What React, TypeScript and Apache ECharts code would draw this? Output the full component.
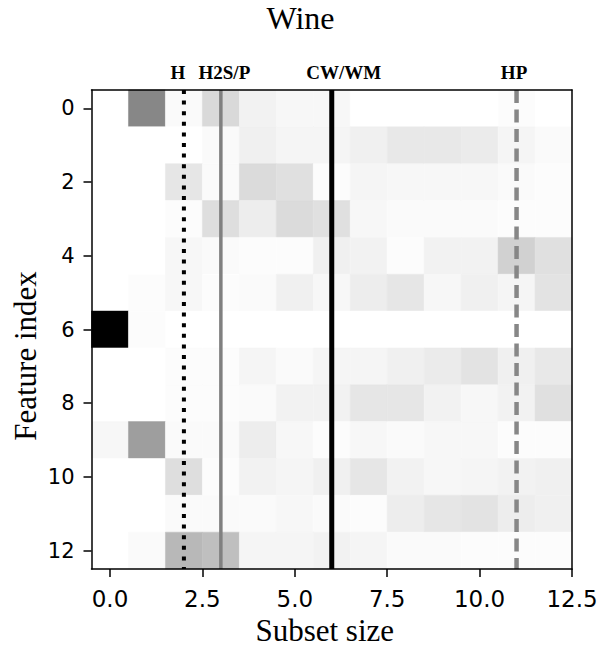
import React, { useEffect, useRef } from "react";
import * as echarts from "echarts";

// Subset sizes (columns) and feature indices (rows)
const subsetSizes = [0, 1, 2, 3, 4, 5, 6, 7, 8, 9, 10, 11, 12];
const featureIndices = [0, 1, 2, 3, 4, 5, 6, 7, 8, 9, 10, 11, 12];

// Relative importance per feature (0 = white, 1 = black), one value per subset size
const feature0 = [0, 0.47, 0.02, 0.15, 0.05, 0.03, 0.03, 0, 0, 0, 0, 0.01, 0];
const feature1 = [0, 0, 0, 0.02, 0.06, 0.04, 0.04, 0.06, 0.09, 0.09, 0.08, 0.04, 0.02];
const feature2 = [0, 0, 0.1, 0.02, 0.14, 0.12, 0.01, 0.04, 0.03, 0.03, 0.03, 0.02, 0.01];
const feature3 = [0, 0, 0.01, 0.13, 0.07, 0.14, 0.12, 0.03, 0.02, 0.02, 0.02, 0.01, 0.01];
const feature4 = [0, 0, 0.03, 0.02, 0.01, 0.01, 0.06, 0.05, 0.01, 0.05, 0.05, 0.18, 0.12];
const feature5 = [0, 0.01, 0.03, 0.01, 0.02, 0.06, 0.03, 0.07, 0.1, 0.03, 0.06, 0.04, 0.11];
const feature6 = [1, 0.01, 0, 0, 0, 0, 0, 0, 0, 0, 0, 0, 0];
const feature7 = [0, 0, 0.01, 0.01, 0.04, 0.02, 0.04, 0.04, 0.06, 0.08, 0.11, 0.06, 0.09];
const feature8 = [0, 0, 0.01, 0.01, 0.02, 0.05, 0.05, 0.1, 0.1, 0.05, 0.03, 0.05, 0.12];
const feature9 = [0.03, 0.38, 0.02, 0.02, 0.07, 0.03, 0.01, 0.03, 0.02, 0.03, 0.03, 0.01, 0.01];
const feature10 = [0, 0, 0.13, 0.01, 0.05, 0.04, 0.06, 0.1, 0.05, 0.03, 0.04, 0.05, 0.06];
const feature11 = [0, 0, 0.02, 0.02, 0.02, 0.03, 0.02, 0.01, 0.07, 0.1, 0.11, 0.07, 0.06];
const feature12 = [0, 0.02, 0.28, 0.25, 0.04, 0.04, 0.05, 0.04, 0.02, 0.02, 0.01, 0.01, 0.01];

const featureRows = [
  feature0, feature1, feature2, feature3, feature4, feature5, feature6,
  feature7, feature8, feature9, feature10, feature11, feature12,
];

// Axis ticks
const xTicks = [0, 2.5, 5, 7.5, 10, 12.5];
const yTicks = [0, 2, 4, 6, 8, 10, 12];

// Vertical reference markers
const markerX = [2, 3, 6, 11];
const markerLabels = ["H", "H2S/P", "CW/WM", "HP"];

export default function App() {
  const ref = useRef<HTMLDivElement>(null);

  useEffect(() => {
    if (!ref.current) return;
    const chart = echarts.init(ref.current, null, { renderer: "svg" });

    const cells: number[][] = [];
    featureIndices.forEach((fi) => {
      subsetSizes.forEach((s, ci) => {
        cells.push([s, fi, featureRows[fi][ci]]);
      });
    });

    const xMin = -0.5;
    const xMax = 12.5;
    const yMin = -0.5;
    const yMax = 12.5;

    const markerStyles = [
      { color: "#000000", width: 4, type: [4, 6.6] as any, offset: [-6, 0] },
      { color: "#808080", width: 3.5, type: "solid" as any, offset: [3.5, 0] },
      { color: "#000000", width: 5, type: "solid" as any, offset: [12, 0] },
      { color: "#878787", width: 4.5, type: [13, 6.5] as any, offset: [-2.5, 0] },
    ];

    const markerSeries = markerX.map((mx, i) => ({
      type: "line",
      name: markerLabels[i],
      z: 5,
      xAxisIndex: 0,
      yAxisIndex: 0,
      symbol: "none",
      silent: true,
      clip: false,
      lineStyle: {
        color: markerStyles[i].color,
        width: markerStyles[i].width,
        type: markerStyles[i].type,
        cap: "butt",
      },
      data: [
        [mx, yMin],
        [mx, yMax],
      ],
    }));

    const markerLabelSeries = {
      type: "scatter",
      z: 6,
      xAxisIndex: 0,
      yAxisIndex: 0,
      silent: true,
      clip: false,
      symbol: "circle",
      symbolSize: 0.01,
      itemStyle: { color: "#000000" },
      data: markerX.map((mx, i) => ({
        value: [mx, yMin],
        label: {
          show: true,
          position: "top",
          distance: 8,
          offset: markerStyles[i].offset,
          formatter: markerLabels[i],
          fontFamily: "Liberation Serif",
          fontWeight: "bold",
          fontSize: 19,
          color: "#000000",
          opacity: 1,
          textBorderWidth: 0,
        },
      })),
    };

    const frameLine = {
      show: true,
      onZero: false,
      lineStyle: { color: "#000", width: 1.5 },
    };

    chart.setOption({
      animation: false,
      backgroundColor: "#ffffff",
      title: {
        text: "Wine",
        left: "center",
        top: 2,
        padding: [0, 0, 0, 9],
        textStyle: {
          fontFamily: "Liberation Serif",
          fontWeight: "normal",
          fontSize: 32,
          color: "#000",
        },
      },
      grid: {
        left: 91.5,
        top: 90,
        width: 480.5,
        height: 480,
        show: false,
      },
      visualMap: {
        show: false,
        type: "continuous",
        min: 0,
        max: 1,
        dimension: 2,
        seriesIndex: 0,
        inRange: { color: ["#ffffff", "#000000"] },
      },
      xAxis: [
        {
          type: "value",
          position: "bottom",
          min: xMin,
          max: xMax,
          z: 10,
          splitLine: { show: false },
          axisLine: frameLine,
          axisTick: {
            show: true,
            length: 8,
            customValues: xTicks,
            lineStyle: { color: "#000", width: 1.5 },
          },
          axisLabel: {
            customValues: xTicks,
            margin: 18,
            fontFamily: "DejaVu Sans",
            fontSize: 23,
            color: "#000",
            formatter: (v: number) => v.toFixed(1),
          },
          name: "Subset size",
          nameLocation: "middle",
          nameGap: 46,
          nameTextStyle: {
            fontFamily: "Liberation Serif",
            fontSize: 31,
            color: "#000",
            padding: [0, 14, 0, 0],
          },
        },
        {
          type: "value",
          position: "top",
          min: xMin,
          max: xMax,
          z: 10,
          splitLine: { show: false },
          axisLine: frameLine,
          axisTick: { show: false },
          axisLabel: { show: false },
        },
      ],
      yAxis: [
        {
          type: "value",
          position: "left",
          inverse: true,
          min: yMin,
          max: yMax,
          z: 10,
          splitLine: { show: false },
          axisLine: frameLine,
          axisTick: {
            show: true,
            length: 8,
            customValues: yTicks,
            lineStyle: { color: "#000", width: 1.5 },
          },
          axisLabel: {
            customValues: yTicks,
            margin: 17,
            fontFamily: "DejaVu Sans",
            fontSize: 21,
            color: "#000",
            formatter: (v: number) => String(v),
          },
        },
        {
          type: "value",
          position: "right",
          inverse: true,
          min: yMin,
          max: yMax,
          z: 10,
          splitLine: { show: false },
          axisLine: frameLine,
          axisTick: { show: false },
          axisLabel: { show: false },
        },
      ],
      graphic: [
        {
          type: "text",
          x: 25,
          y: 356,
          rotation: Math.PI / 2,
          style: {
            text: "Feature index",
            fontFamily: "Liberation Serif",
            fontSize: 31,
            fill: "#000",
            textAlign: "center",
            textVerticalAlign: "middle",
          },
        },
      ],
      series: [
        {
          type: "custom",
          z: 1,
          xAxisIndex: 0,
          yAxisIndex: 0,
          data: cells,
          encode: { x: 0, y: 1 },
          renderItem: (params: any, api: any) => {
            const x = api.value(0);
            const y = api.value(1);
            const tl = api.coord([x - 0.5, y - 0.5]);
            const br = api.coord([x + 0.5, y + 0.5]);
            const color = api.visual("color");
            return {
              type: "rect",
              shape: {
                x: tl[0],
                y: tl[1],
                width: br[0] - tl[0],
                height: br[1] - tl[1],
              },
              style: { fill: color, stroke: color, lineWidth: 0.5 },
            };
          },
        },
        ...markerSeries,
        markerLabelSeries,
      ],
    });

    return () => chart.dispose();
  }, []);

  return (
    <div
      ref={ref}
      style={{ position: "fixed", left: 0, top: 0, width: 601, height: 651 }}
    />
  );
}
